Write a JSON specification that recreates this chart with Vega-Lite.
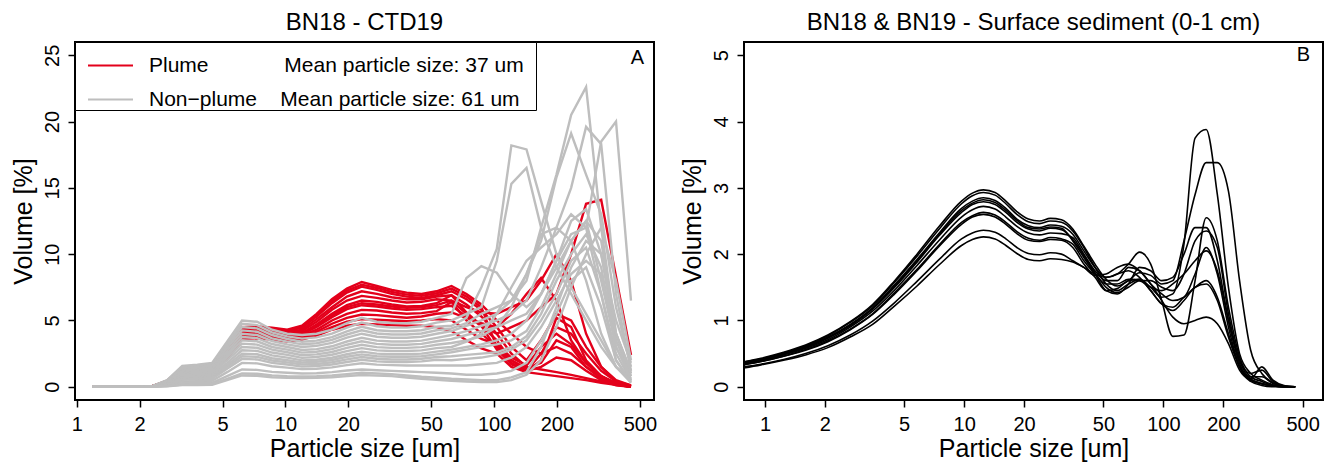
{
"$schema": "https://vega.github.io/schema/vega-lite/v6.json",
"background": "white",
"padding": {"left": 10, "top": 10, "right": 2, "bottom": 0},
"config": {
  "font": "Liberation Sans",
  "view": {"stroke": "black", "strokeWidth": 2},
  "axis": {"domain": false, "grid": false, "tickColor": "black", "tickSize": 7, "tickWidth": 1.5, "labelColor": "black", "labelFontSize": 20, "labelFont": "Liberation Sans", "labelFlush": false, "labelOverlap": false, "titleFont": "Liberation Sans", "titleFontSize": 25, "titleFontWeight": "normal", "titleColor": "black"},
  "axisX": {"labelPadding": 7, "titlePadding": 2},
  "axisY": {"labelAngle": -90, "labelAlign": "center", "labelBaseline": "bottom", "labelPadding": 6, "titlePadding": 6},
  "title": {"fontSize": 24, "fontWeight": "normal", "font": "Liberation Sans", "color": "black", "offset": 7}
},
"datasets": {
"plume": [
{"i":1,"x":1.19,"y":0},{"i":1,"x":1.4,"y":0},{"i":1,"x":1.65,"y":0},{"i":1,"x":1.95,"y":0},{"i":1,"x":2.3,"y":0.05},{"i":1,"x":2.71,"y":0.45},{"i":1,"x":3.2,"y":1.4},{"i":1,"x":3.78,"y":1.5},{"i":1,"x":4.45,"y":1.6},{"i":1,"x":5.25,"y":3},{"i":1,"x":6.19,"y":4.5},{"i":1,"x":7.31,"y":4.55},{"i":1,"x":8.62,"y":4.45},{"i":1,"x":10.2,"y":4.3},{"i":1,"x":12,"y":4.6},{"i":1,"x":14.1,"y":5.5},{"i":1,"x":16.7,"y":6.6},{"i":1,"x":19.7,"y":7.4},{"i":1,"x":23.2,"y":7.9},{"i":1,"x":27.4,"y":7.6},{"i":1,"x":32.3,"y":7.3},{"i":1,"x":38.1,"y":7.1},{"i":1,"x":44.9,"y":7},{"i":1,"x":53,"y":7.2},{"i":1,"x":62.5,"y":7.6},{"i":1,"x":73.7,"y":7},{"i":1,"x":86.9,"y":6.2},{"i":1,"x":103,"y":5},{"i":1,"x":121,"y":4},{"i":1,"x":143,"y":3},{"i":1,"x":168,"y":2.5},{"i":1,"x":199,"y":3},{"i":1,"x":234,"y":2.5},{"i":1,"x":276,"y":1.5},{"i":1,"x":326,"y":0.7},{"i":1,"x":384,"y":0.2},{"i":1,"x":453,"y":0.05},
{"i":2,"x":1.19,"y":0},{"i":2,"x":1.4,"y":0},{"i":2,"x":1.65,"y":0},{"i":2,"x":1.95,"y":0},{"i":2,"x":2.3,"y":0.05},{"i":2,"x":2.71,"y":0.43},{"i":2,"x":3.2,"y":1.35},{"i":2,"x":3.78,"y":1.45},{"i":2,"x":4.45,"y":1.55},{"i":2,"x":5.25,"y":2.9},{"i":2,"x":6.19,"y":4.4},{"i":2,"x":7.31,"y":4.45},{"i":2,"x":8.62,"y":4.35},{"i":2,"x":10.2,"y":4.2},{"i":2,"x":12,"y":4.45},{"i":2,"x":14.1,"y":5.3},{"i":2,"x":16.7,"y":6.3},{"i":2,"x":19.7,"y":7.1},{"i":2,"x":23.2,"y":7.55},{"i":2,"x":27.4,"y":7.3},{"i":2,"x":32.3,"y":7},{"i":2,"x":38.1,"y":6.8},{"i":2,"x":44.9,"y":6.7},{"i":2,"x":53,"y":6.9},{"i":2,"x":62.5,"y":7.2},{"i":2,"x":73.7,"y":6.6},{"i":2,"x":86.9,"y":5.8},{"i":2,"x":103,"y":4.5},{"i":2,"x":121,"y":3},{"i":2,"x":143,"y":2},{"i":2,"x":168,"y":3.5},{"i":2,"x":199,"y":5.5},{"i":2,"x":234,"y":5},{"i":2,"x":276,"y":3},{"i":2,"x":326,"y":1.5},{"i":2,"x":384,"y":0.5},{"i":2,"x":453,"y":0.1},
{"i":3,"x":1.19,"y":0},{"i":3,"x":1.4,"y":0},{"i":3,"x":1.65,"y":0},{"i":3,"x":1.95,"y":0},{"i":3,"x":2.3,"y":0.04},{"i":3,"x":2.71,"y":0.42},{"i":3,"x":3.2,"y":1.3},{"i":3,"x":3.78,"y":1.4},{"i":3,"x":4.45,"y":1.5},{"i":3,"x":5.25,"y":2.8},{"i":3,"x":6.19,"y":4.3},{"i":3,"x":7.31,"y":4.35},{"i":3,"x":8.62,"y":4.25},{"i":3,"x":10.2,"y":4.1},{"i":3,"x":12,"y":4.3},{"i":3,"x":14.1,"y":5.1},{"i":3,"x":16.7,"y":6},{"i":3,"x":19.7,"y":6.8},{"i":3,"x":23.2,"y":7.2},{"i":3,"x":27.4,"y":7},{"i":3,"x":32.3,"y":6.75},{"i":3,"x":38.1,"y":6.6},{"i":3,"x":44.9,"y":6.6},{"i":3,"x":53,"y":6.8},{"i":3,"x":62.5,"y":6.9},{"i":3,"x":73.7,"y":6.2},{"i":3,"x":86.9,"y":5.3},{"i":3,"x":103,"y":4},{"i":3,"x":121,"y":2.5},{"i":3,"x":143,"y":1.5},{"i":3,"x":168,"y":1.3},{"i":3,"x":199,"y":1.1},{"i":3,"x":234,"y":0.9},{"i":3,"x":276,"y":0.65},{"i":3,"x":326,"y":0.4},{"i":3,"x":384,"y":0.2},{"i":3,"x":453,"y":0},
{"i":4,"x":1.19,"y":0},{"i":4,"x":1.4,"y":0},{"i":4,"x":1.65,"y":0},{"i":4,"x":1.95,"y":0},{"i":4,"x":2.3,"y":0.04},{"i":4,"x":2.71,"y":0.4},{"i":4,"x":3.2,"y":1.25},{"i":4,"x":3.78,"y":1.35},{"i":4,"x":4.45,"y":1.45},{"i":4,"x":5.25,"y":2.7},{"i":4,"x":6.19,"y":4.2},{"i":4,"x":7.31,"y":4.25},{"i":4,"x":8.62,"y":4.15},{"i":4,"x":10.2,"y":4},{"i":4,"x":12,"y":4.2},{"i":4,"x":14.1,"y":4.9},{"i":4,"x":16.7,"y":5.8},{"i":4,"x":19.7,"y":6.5},{"i":4,"x":23.2,"y":6.85},{"i":4,"x":27.4,"y":6.7},{"i":4,"x":32.3,"y":6.5},{"i":4,"x":38.1,"y":6.35},{"i":4,"x":44.9,"y":6.4},{"i":4,"x":53,"y":6.6},{"i":4,"x":62.5,"y":6.5},{"i":4,"x":73.7,"y":6},{"i":4,"x":86.9,"y":5.6},{"i":4,"x":103,"y":5.5},{"i":4,"x":121,"y":6},{"i":4,"x":143,"y":6.5},{"i":4,"x":168,"y":8},{"i":4,"x":199,"y":10},{"i":4,"x":234,"y":8},{"i":4,"x":276,"y":4},{"i":4,"x":326,"y":1.5},{"i":4,"x":384,"y":0.4},{"i":4,"x":453,"y":0.1},
{"i":5,"x":1.19,"y":0},{"i":5,"x":1.4,"y":0},{"i":5,"x":1.65,"y":0},{"i":5,"x":1.95,"y":0},{"i":5,"x":2.3,"y":0.04},{"i":5,"x":2.71,"y":0.38},{"i":5,"x":3.2,"y":1.2},{"i":5,"x":3.78,"y":1.3},{"i":5,"x":4.45,"y":1.4},{"i":5,"x":5.25,"y":2.6},{"i":5,"x":6.19,"y":4.1},{"i":5,"x":7.31,"y":4.15},{"i":5,"x":8.62,"y":4.05},{"i":5,"x":10.2,"y":3.9},{"i":5,"x":12,"y":4.05},{"i":5,"x":14.1,"y":4.7},{"i":5,"x":16.7,"y":5.5},{"i":5,"x":19.7,"y":6.15},{"i":5,"x":23.2,"y":6.5},{"i":5,"x":27.4,"y":6.4},{"i":5,"x":32.3,"y":6.2},{"i":5,"x":38.1,"y":6.05},{"i":5,"x":44.9,"y":6.1},{"i":5,"x":53,"y":6.3},{"i":5,"x":62.5,"y":6.9},{"i":5,"x":73.7,"y":5.6},{"i":5,"x":86.9,"y":4.6},{"i":5,"x":103,"y":3.5},{"i":5,"x":121,"y":2},{"i":5,"x":143,"y":1.2},{"i":5,"x":168,"y":2.5},{"i":5,"x":199,"y":4.5},{"i":5,"x":234,"y":4},{"i":5,"x":276,"y":2.5},{"i":5,"x":326,"y":1.2},{"i":5,"x":384,"y":0.4},{"i":5,"x":453,"y":0},
{"i":6,"x":1.19,"y":0},{"i":6,"x":1.4,"y":0},{"i":6,"x":1.65,"y":0},{"i":6,"x":1.95,"y":0},{"i":6,"x":2.3,"y":0.04},{"i":6,"x":2.71,"y":0.36},{"i":6,"x":3.2,"y":1.15},{"i":6,"x":3.78,"y":1.25},{"i":6,"x":4.45,"y":1.35},{"i":6,"x":5.25,"y":2.5},{"i":6,"x":6.19,"y":4},{"i":6,"x":7.31,"y":4.05},{"i":6,"x":8.62,"y":3.95},{"i":6,"x":10.2,"y":3.8},{"i":6,"x":12,"y":3.95},{"i":6,"x":14.1,"y":4.5},{"i":6,"x":16.7,"y":5.25},{"i":6,"x":19.7,"y":5.85},{"i":6,"x":23.2,"y":6.15},{"i":6,"x":27.4,"y":6.05},{"i":6,"x":32.3,"y":5.9},{"i":6,"x":38.1,"y":5.8},{"i":6,"x":44.9,"y":5.85},{"i":6,"x":53,"y":6},{"i":6,"x":62.5,"y":6.1},{"i":6,"x":73.7,"y":5.3},{"i":6,"x":86.9,"y":4.6},{"i":6,"x":103,"y":4},{"i":6,"x":121,"y":4.5},{"i":6,"x":143,"y":5},{"i":6,"x":168,"y":6},{"i":6,"x":199,"y":7},{"i":6,"x":234,"y":10},{"i":6,"x":276,"y":13.8},{"i":6,"x":326,"y":14.1},{"i":6,"x":384,"y":8.3},{"i":6,"x":453,"y":2.4},
{"i":7,"x":1.19,"y":0},{"i":7,"x":1.4,"y":0},{"i":7,"x":1.65,"y":0},{"i":7,"x":1.95,"y":0},{"i":7,"x":2.3,"y":0.03},{"i":7,"x":2.71,"y":0.34},{"i":7,"x":3.2,"y":1.1},{"i":7,"x":3.78,"y":1.2},{"i":7,"x":4.45,"y":1.3},{"i":7,"x":5.25,"y":2.4},{"i":7,"x":6.19,"y":3.9},{"i":7,"x":7.31,"y":3.95},{"i":7,"x":8.62,"y":3.85},{"i":7,"x":10.2,"y":3.7},{"i":7,"x":12,"y":3.85},{"i":7,"x":14.1,"y":4.3},{"i":7,"x":16.7,"y":5},{"i":7,"x":19.7,"y":5.5},{"i":7,"x":23.2,"y":5.8},{"i":7,"x":27.4,"y":5.75},{"i":7,"x":32.3,"y":5.6},{"i":7,"x":38.1,"y":5.5},{"i":7,"x":44.9,"y":5.55},{"i":7,"x":53,"y":5.7},{"i":7,"x":62.5,"y":6.4},{"i":7,"x":73.7,"y":5},{"i":7,"x":86.9,"y":4},{"i":7,"x":103,"y":3},{"i":7,"x":121,"y":1.8},{"i":7,"x":143,"y":1.1},{"i":7,"x":168,"y":2},{"i":7,"x":199,"y":5.2},{"i":7,"x":234,"y":4.5},{"i":7,"x":276,"y":2},{"i":7,"x":326,"y":0.8},{"i":7,"x":384,"y":0.2},{"i":7,"x":453,"y":0},
{"i":8,"x":1.19,"y":0},{"i":8,"x":1.4,"y":0},{"i":8,"x":1.65,"y":0},{"i":8,"x":1.95,"y":0},{"i":8,"x":2.3,"y":0.03},{"i":8,"x":2.71,"y":0.32},{"i":8,"x":3.2,"y":1.05},{"i":8,"x":3.78,"y":1.15},{"i":8,"x":4.45,"y":1.25},{"i":8,"x":5.25,"y":2.3},{"i":8,"x":6.19,"y":3.8},{"i":8,"x":7.31,"y":3.85},{"i":8,"x":8.62,"y":3.75},{"i":8,"x":10.2,"y":3.6},{"i":8,"x":12,"y":3.75},{"i":8,"x":14.1,"y":4.15},{"i":8,"x":16.7,"y":4.75},{"i":8,"x":19.7,"y":5.2},{"i":8,"x":23.2,"y":5.45},{"i":8,"x":27.4,"y":5.4},{"i":8,"x":32.3,"y":5.3},{"i":8,"x":38.1,"y":5.2},{"i":8,"x":44.9,"y":5.3},{"i":8,"x":53,"y":5.5},{"i":8,"x":62.5,"y":5.6},{"i":8,"x":73.7,"y":5.2},{"i":8,"x":86.9,"y":4.8},{"i":8,"x":103,"y":4.5},{"i":8,"x":121,"y":5.5},{"i":8,"x":143,"y":7},{"i":8,"x":168,"y":8.2},{"i":8,"x":199,"y":6.5},{"i":8,"x":234,"y":3.5},{"i":8,"x":276,"y":1.8},{"i":8,"x":326,"y":0.8},{"i":8,"x":384,"y":0.2},{"i":8,"x":453,"y":0},
{"i":9,"x":1.19,"y":0},{"i":9,"x":1.4,"y":0},{"i":9,"x":1.65,"y":0},{"i":9,"x":1.95,"y":0},{"i":9,"x":2.3,"y":0.03},{"i":9,"x":2.71,"y":0.3},{"i":9,"x":3.2,"y":1},{"i":9,"x":3.78,"y":1.1},{"i":9,"x":4.45,"y":1.2},{"i":9,"x":5.25,"y":2.2},{"i":9,"x":6.19,"y":3.7},{"i":9,"x":7.31,"y":3.75},{"i":9,"x":8.62,"y":3.65},{"i":9,"x":10.2,"y":3.5},{"i":9,"x":12,"y":3.65},{"i":9,"x":14.1,"y":4},{"i":9,"x":16.7,"y":4.5},{"i":9,"x":19.7,"y":4.9},{"i":9,"x":23.2,"y":5.1},{"i":9,"x":27.4,"y":5.05},{"i":9,"x":32.3,"y":5},{"i":9,"x":38.1,"y":4.95},{"i":9,"x":44.9,"y":5},{"i":9,"x":53,"y":5.1},{"i":9,"x":62.5,"y":5},{"i":9,"x":73.7,"y":4.3},{"i":9,"x":86.9,"y":3.6},{"i":9,"x":103,"y":3.2},{"i":9,"x":121,"y":2.2},{"i":9,"x":143,"y":1.6},{"i":9,"x":168,"y":3},{"i":9,"x":199,"y":4},{"i":9,"x":234,"y":3.2},{"i":9,"x":276,"y":1.8},{"i":9,"x":326,"y":0.8},{"i":9,"x":384,"y":0.3},{"i":9,"x":453,"y":0},
{"i":10,"x":1.19,"y":0},{"i":10,"x":1.4,"y":0},{"i":10,"x":1.65,"y":0},{"i":10,"x":1.95,"y":0},{"i":10,"x":2.3,"y":0.03},{"i":10,"x":2.71,"y":0.28},{"i":10,"x":3.2,"y":0.95},{"i":10,"x":3.78,"y":1.05},{"i":10,"x":4.45,"y":1.15},{"i":10,"x":5.25,"y":2.1},{"i":10,"x":6.19,"y":3.6},{"i":10,"x":7.31,"y":3.65},{"i":10,"x":8.62,"y":3.55},{"i":10,"x":10.2,"y":3.4},{"i":10,"x":12,"y":3.55},{"i":10,"x":14.1,"y":3.85},{"i":10,"x":16.7,"y":4.3},{"i":10,"x":19.7,"y":4.6},{"i":10,"x":23.2,"y":4.75},{"i":10,"x":27.4,"y":4.7},{"i":10,"x":32.3,"y":4.65},{"i":10,"x":38.1,"y":4.6},{"i":10,"x":44.9,"y":4.6},{"i":10,"x":53,"y":4.5},{"i":10,"x":62.5,"y":4.2},{"i":10,"x":73.7,"y":3.5},{"i":10,"x":86.9,"y":2.9},{"i":10,"x":103,"y":2.5},{"i":10,"x":121,"y":1.5},{"i":10,"x":143,"y":1.1},{"i":10,"x":168,"y":0.95},{"i":10,"x":199,"y":0.8},{"i":10,"x":234,"y":0.65},{"i":10,"x":276,"y":0.5},{"i":10,"x":326,"y":0.3},{"i":10,"x":384,"y":0.15},{"i":10,"x":453,"y":0},
{"i":11,"x":1.19,"y":0},{"i":11,"x":1.4,"y":0},{"i":11,"x":1.65,"y":0},{"i":11,"x":1.95,"y":0},{"i":11,"x":2.3,"y":0.05},{"i":11,"x":2.71,"y":0.44},{"i":11,"x":3.2,"y":1.38},{"i":11,"x":3.78,"y":1.48},{"i":11,"x":4.45,"y":1.58},{"i":11,"x":5.25,"y":2.95},{"i":11,"x":6.19,"y":4.45},{"i":11,"x":7.31,"y":4.5},{"i":11,"x":8.62,"y":4.4},{"i":11,"x":10.2,"y":4.25},{"i":11,"x":12,"y":4.5},{"i":11,"x":14.1,"y":5.4},{"i":11,"x":16.7,"y":6.45},{"i":11,"x":19.7,"y":7.25},{"i":11,"x":23.2,"y":7.7},{"i":11,"x":27.4,"y":7.45},{"i":11,"x":32.3,"y":7.15},{"i":11,"x":38.1,"y":6.95},{"i":11,"x":44.9,"y":6.85},{"i":11,"x":53,"y":7.05},{"i":11,"x":62.5,"y":7.4},{"i":11,"x":73.7,"y":6.8},{"i":11,"x":86.9,"y":6},{"i":11,"x":103,"y":3},{"i":11,"x":121,"y":2},{"i":11,"x":143,"y":1.4},{"i":11,"x":168,"y":1.8},{"i":11,"x":199,"y":3.5},{"i":11,"x":234,"y":3},{"i":11,"x":276,"y":1.5},{"i":11,"x":326,"y":0.6},{"i":11,"x":384,"y":0.15},{"i":11,"x":453,"y":0},
{"i":12,"x":1.19,"y":0},{"i":12,"x":1.4,"y":0},{"i":12,"x":1.65,"y":0},{"i":12,"x":1.95,"y":0},{"i":12,"x":2.3,"y":0.04},{"i":12,"x":2.71,"y":0.37},{"i":12,"x":3.2,"y":1.18},{"i":12,"x":3.78,"y":1.28},{"i":12,"x":4.45,"y":1.38},{"i":12,"x":5.25,"y":2.55},{"i":12,"x":6.19,"y":4.05},{"i":12,"x":7.31,"y":4.1},{"i":12,"x":8.62,"y":4},{"i":12,"x":10.2,"y":3.85},{"i":12,"x":12,"y":4},{"i":12,"x":14.1,"y":4.6},{"i":12,"x":16.7,"y":5.4},{"i":12,"x":19.7,"y":6},{"i":12,"x":23.2,"y":6.3},{"i":12,"x":27.4,"y":6.2},{"i":12,"x":32.3,"y":6.05},{"i":12,"x":38.1,"y":5.95},{"i":12,"x":44.9,"y":6},{"i":12,"x":53,"y":6.15},{"i":12,"x":62.5,"y":6.5},{"i":12,"x":73.7,"y":5.5},{"i":12,"x":86.9,"y":4.6},{"i":12,"x":103,"y":2.8},{"i":12,"x":121,"y":1.7},{"i":12,"x":143,"y":1.2},{"i":12,"x":168,"y":1.5},{"i":12,"x":199,"y":2.2},{"i":12,"x":234,"y":2},{"i":12,"x":276,"y":1.2},{"i":12,"x":326,"y":0.5},{"i":12,"x":384,"y":0.1},{"i":12,"x":453,"y":0}
],
"nonplume": [
{"i":1,"x":1.19,"y":0},{"i":1,"x":1.4,"y":0},{"i":1,"x":1.65,"y":0},{"i":1,"x":1.95,"y":0},{"i":1,"x":2.3,"y":0.05},{"i":1,"x":2.71,"y":0.5},{"i":1,"x":3.2,"y":1.58},{"i":1,"x":3.78,"y":1.67},{"i":1,"x":4.45,"y":1.8},{"i":1,"x":5.25,"y":3.4},{"i":1,"x":6.19,"y":5},{"i":1,"x":7.31,"y":4.9},{"i":1,"x":8.62,"y":4.3},{"i":1,"x":10.2,"y":4},{"i":1,"x":12,"y":3.9},{"i":1,"x":14.1,"y":4},{"i":1,"x":16.7,"y":4.3},{"i":1,"x":19.7,"y":4.8},{"i":1,"x":23.2,"y":5.2},{"i":1,"x":27.4,"y":4.9},{"i":1,"x":32.3,"y":4.8},{"i":1,"x":38.1,"y":4.8},{"i":1,"x":44.9,"y":4.9},{"i":1,"x":53,"y":5.2},{"i":1,"x":62.5,"y":5.5},{"i":1,"x":73.7,"y":8.2},{"i":1,"x":86.9,"y":9.1},{"i":1,"x":103,"y":8.6},{"i":1,"x":121,"y":7},{"i":1,"x":143,"y":6},{"i":1,"x":168,"y":7},{"i":1,"x":199,"y":9},{"i":1,"x":234,"y":11},{"i":1,"x":276,"y":12.5},{"i":1,"x":326,"y":8},{"i":1,"x":384,"y":3},{"i":1,"x":453,"y":0.8},
{"i":2,"x":1.19,"y":0},{"i":2,"x":1.4,"y":0},{"i":2,"x":1.65,"y":0},{"i":2,"x":1.95,"y":0},{"i":2,"x":2.3,"y":0.05},{"i":2,"x":2.71,"y":0.48},{"i":2,"x":3.2,"y":1.5},{"i":2,"x":3.78,"y":1.58},{"i":2,"x":4.45,"y":1.7},{"i":2,"x":5.25,"y":3.2},{"i":2,"x":6.19,"y":4.75},{"i":2,"x":7.31,"y":4.65},{"i":2,"x":8.62,"y":4.1},{"i":2,"x":10.2,"y":3.8},{"i":2,"x":12,"y":3.63},{"i":2,"x":14.1,"y":3.72},{"i":2,"x":16.7,"y":4},{"i":2,"x":19.7,"y":4.46},{"i":2,"x":23.2,"y":4.84},{"i":2,"x":27.4,"y":4.56},{"i":2,"x":32.3,"y":4.46},{"i":2,"x":38.1,"y":4.46},{"i":2,"x":44.9,"y":4.56},{"i":2,"x":53,"y":4.84},{"i":2,"x":62.5,"y":5},{"i":2,"x":73.7,"y":5.5},{"i":2,"x":86.9,"y":6},{"i":2,"x":103,"y":9.5},{"i":2,"x":121,"y":15.3},{"i":2,"x":143,"y":16.5},{"i":2,"x":168,"y":12},{"i":2,"x":199,"y":9},{"i":2,"x":234,"y":7},{"i":2,"x":276,"y":5},{"i":2,"x":326,"y":3},{"i":2,"x":384,"y":1.5},{"i":2,"x":453,"y":0.5},
{"i":3,"x":1.19,"y":0},{"i":3,"x":1.4,"y":0},{"i":3,"x":1.65,"y":0},{"i":3,"x":1.95,"y":0},{"i":3,"x":2.3,"y":0.05},{"i":3,"x":2.71,"y":0.45},{"i":3,"x":3.2,"y":1.4},{"i":3,"x":3.78,"y":1.49},{"i":3,"x":4.45,"y":1.6},{"i":3,"x":5.25,"y":3.05},{"i":3,"x":6.19,"y":4.5},{"i":3,"x":7.31,"y":4.4},{"i":3,"x":8.62,"y":3.9},{"i":3,"x":10.2,"y":3.6},{"i":3,"x":12,"y":3.39},{"i":3,"x":14.1,"y":3.48},{"i":3,"x":16.7,"y":3.74},{"i":3,"x":19.7,"y":4.18},{"i":3,"x":23.2,"y":4.52},{"i":3,"x":27.4,"y":4.26},{"i":3,"x":32.3,"y":4.18},{"i":3,"x":38.1,"y":4.18},{"i":3,"x":44.9,"y":4.26},{"i":3,"x":53,"y":4.52},{"i":3,"x":62.5,"y":4.6},{"i":3,"x":73.7,"y":5.2},{"i":3,"x":86.9,"y":7.5},{"i":3,"x":103,"y":10.4},{"i":3,"x":121,"y":18.2},{"i":3,"x":143,"y":17.9},{"i":3,"x":168,"y":14},{"i":3,"x":199,"y":10},{"i":3,"x":234,"y":7.5},{"i":3,"x":276,"y":5.5},{"i":3,"x":326,"y":3.5},{"i":3,"x":384,"y":1.5},{"i":3,"x":453,"y":0.5},
{"i":4,"x":1.19,"y":0},{"i":4,"x":1.4,"y":0},{"i":4,"x":1.65,"y":0},{"i":4,"x":1.95,"y":0},{"i":4,"x":2.3,"y":0.04},{"i":4,"x":2.71,"y":0.42},{"i":4,"x":3.2,"y":1.32},{"i":4,"x":3.78,"y":1.4},{"i":4,"x":4.45,"y":1.5},{"i":4,"x":5.25,"y":2.9},{"i":4,"x":6.19,"y":4.25},{"i":4,"x":7.31,"y":4.15},{"i":4,"x":8.62,"y":3.65},{"i":4,"x":10.2,"y":3.4},{"i":4,"x":12,"y":3.2},{"i":4,"x":14.1,"y":3.28},{"i":4,"x":16.7,"y":3.53},{"i":4,"x":19.7,"y":3.94},{"i":4,"x":23.2,"y":4.26},{"i":4,"x":27.4,"y":4.02},{"i":4,"x":32.3,"y":3.94},{"i":4,"x":38.1,"y":3.94},{"i":4,"x":44.9,"y":4.02},{"i":4,"x":53,"y":4.26},{"i":4,"x":62.5,"y":4.4},{"i":4,"x":73.7,"y":4.8},{"i":4,"x":86.9,"y":5.5},{"i":4,"x":103,"y":6},{"i":4,"x":121,"y":6.5},{"i":4,"x":143,"y":8},{"i":4,"x":168,"y":12},{"i":4,"x":199,"y":16},{"i":4,"x":234,"y":20.5},{"i":4,"x":276,"y":22.6},{"i":4,"x":326,"y":12},{"i":4,"x":384,"y":4},{"i":4,"x":453,"y":1},
{"i":5,"x":1.19,"y":0},{"i":5,"x":1.4,"y":0},{"i":5,"x":1.65,"y":0},{"i":5,"x":1.95,"y":0},{"i":5,"x":2.3,"y":0.04},{"i":5,"x":2.71,"y":0.39},{"i":5,"x":3.2,"y":1.23},{"i":5,"x":3.78,"y":1.3},{"i":5,"x":4.45,"y":1.4},{"i":5,"x":5.25,"y":2.7},{"i":5,"x":6.19,"y":4},{"i":5,"x":7.31,"y":3.9},{"i":5,"x":8.62,"y":3.45},{"i":5,"x":10.2,"y":3.2},{"i":5,"x":12,"y":3},{"i":5,"x":14.1,"y":3.08},{"i":5,"x":16.7,"y":3.31},{"i":5,"x":19.7,"y":3.7},{"i":5,"x":23.2,"y":4},{"i":5,"x":27.4,"y":3.77},{"i":5,"x":32.3,"y":3.7},{"i":5,"x":38.1,"y":3.7},{"i":5,"x":44.9,"y":3.77},{"i":5,"x":53,"y":4},{"i":5,"x":62.5,"y":4.2},{"i":5,"x":73.7,"y":4.6},{"i":5,"x":86.9,"y":5},{"i":5,"x":103,"y":5.5},{"i":5,"x":121,"y":6.5},{"i":5,"x":143,"y":8.5},{"i":5,"x":168,"y":11},{"i":5,"x":199,"y":15.8},{"i":5,"x":234,"y":19.1},{"i":5,"x":276,"y":16},{"i":5,"x":326,"y":13},{"i":5,"x":384,"y":6},{"i":5,"x":453,"y":1.5},
{"i":6,"x":1.19,"y":0},{"i":6,"x":1.4,"y":0},{"i":6,"x":1.65,"y":0},{"i":6,"x":1.95,"y":0},{"i":6,"x":2.3,"y":0.04},{"i":6,"x":2.71,"y":0.36},{"i":6,"x":3.2,"y":1.14},{"i":6,"x":3.78,"y":1.21},{"i":6,"x":4.45,"y":1.3},{"i":6,"x":5.25,"y":2.5},{"i":6,"x":6.19,"y":3.75},{"i":6,"x":7.31,"y":3.67},{"i":6,"x":8.62,"y":3.22},{"i":6,"x":10.2,"y":3},{"i":6,"x":12,"y":2.77},{"i":6,"x":14.1,"y":2.84},{"i":6,"x":16.7,"y":3.05},{"i":6,"x":19.7,"y":3.41},{"i":6,"x":23.2,"y":3.69},{"i":6,"x":27.4,"y":3.48},{"i":6,"x":32.3,"y":3.41},{"i":6,"x":38.1,"y":3.41},{"i":6,"x":44.9,"y":3.48},{"i":6,"x":53,"y":3.69},{"i":6,"x":62.5,"y":3.9},{"i":6,"x":73.7,"y":4.2},{"i":6,"x":86.9,"y":4.6},{"i":6,"x":103,"y":5},{"i":6,"x":121,"y":5.5},{"i":6,"x":143,"y":6.5},{"i":6,"x":168,"y":9},{"i":6,"x":199,"y":12},{"i":6,"x":234,"y":15},{"i":6,"x":276,"y":19.6},{"i":6,"x":326,"y":18.3},{"i":6,"x":384,"y":7},{"i":6,"x":453,"y":1.2},
{"i":7,"x":1.19,"y":0},{"i":7,"x":1.4,"y":0},{"i":7,"x":1.65,"y":0},{"i":7,"x":1.95,"y":0},{"i":7,"x":2.3,"y":0.03},{"i":7,"x":2.71,"y":0.34},{"i":7,"x":3.2,"y":1.06},{"i":7,"x":3.78,"y":1.12},{"i":7,"x":4.45,"y":1.2},{"i":7,"x":5.25,"y":2.35},{"i":7,"x":6.19,"y":3.5},{"i":7,"x":7.31,"y":3.43},{"i":7,"x":8.62,"y":3},{"i":7,"x":10.2,"y":2.8},{"i":7,"x":12,"y":2.57},{"i":7,"x":14.1,"y":2.64},{"i":7,"x":16.7,"y":2.84},{"i":7,"x":19.7,"y":3.17},{"i":7,"x":23.2,"y":3.43},{"i":7,"x":27.4,"y":3.23},{"i":7,"x":32.3,"y":3.17},{"i":7,"x":38.1,"y":3.17},{"i":7,"x":44.9,"y":3.23},{"i":7,"x":53,"y":3.43},{"i":7,"x":62.5,"y":3.6},{"i":7,"x":73.7,"y":3.9},{"i":7,"x":86.9,"y":4.2},{"i":7,"x":103,"y":4.5},{"i":7,"x":121,"y":5},{"i":7,"x":143,"y":5.5},{"i":7,"x":168,"y":7},{"i":7,"x":199,"y":9.5},{"i":7,"x":234,"y":11.5},{"i":7,"x":276,"y":12},{"i":7,"x":326,"y":18.5},{"i":7,"x":384,"y":20},{"i":7,"x":453,"y":6.5},
{"i":8,"x":1.19,"y":0},{"i":8,"x":1.4,"y":0},{"i":8,"x":1.65,"y":0},{"i":8,"x":1.95,"y":0},{"i":8,"x":2.3,"y":0.03},{"i":8,"x":2.71,"y":0.31},{"i":8,"x":3.2,"y":0.97},{"i":8,"x":3.78,"y":1.03},{"i":8,"x":4.45,"y":1.1},{"i":8,"x":5.25,"y":2.2},{"i":8,"x":6.19,"y":3.25},{"i":8,"x":7.31,"y":3.18},{"i":8,"x":8.62,"y":2.8},{"i":8,"x":10.2,"y":2.6},{"i":8,"x":12,"y":2.38},{"i":8,"x":14.1,"y":2.44},{"i":8,"x":16.7,"y":2.62},{"i":8,"x":19.7,"y":2.93},{"i":8,"x":23.2,"y":3.17},{"i":8,"x":27.4,"y":2.99},{"i":8,"x":32.3,"y":2.93},{"i":8,"x":38.1,"y":2.93},{"i":8,"x":44.9,"y":2.99},{"i":8,"x":53,"y":3.17},{"i":8,"x":62.5,"y":3.3},{"i":8,"x":73.7,"y":3.5},{"i":8,"x":86.9,"y":3.8},{"i":8,"x":103,"y":4.5},{"i":8,"x":121,"y":6},{"i":8,"x":143,"y":8.5},{"i":8,"x":168,"y":11.5},{"i":8,"x":199,"y":12},{"i":8,"x":234,"y":11},{"i":8,"x":276,"y":8},{"i":8,"x":326,"y":4},{"i":8,"x":384,"y":1.5},{"i":8,"x":453,"y":0.3},
{"i":9,"x":1.19,"y":0},{"i":9,"x":1.4,"y":0},{"i":9,"x":1.65,"y":0},{"i":9,"x":1.95,"y":0},{"i":9,"x":2.3,"y":0.03},{"i":9,"x":2.71,"y":0.28},{"i":9,"x":3.2,"y":0.88},{"i":9,"x":3.78,"y":0.93},{"i":9,"x":4.45,"y":1},{"i":9,"x":5.25,"y":2},{"i":9,"x":6.19,"y":3},{"i":9,"x":7.31,"y":2.94},{"i":9,"x":8.62,"y":2.58},{"i":9,"x":10.2,"y":2.4},{"i":9,"x":12,"y":2.18},{"i":9,"x":14.1,"y":2.24},{"i":9,"x":16.7,"y":2.41},{"i":9,"x":19.7,"y":2.69},{"i":9,"x":23.2,"y":2.91},{"i":9,"x":27.4,"y":2.74},{"i":9,"x":32.3,"y":2.69},{"i":9,"x":38.1,"y":2.69},{"i":9,"x":44.9,"y":2.74},{"i":9,"x":53,"y":2.91},{"i":9,"x":62.5,"y":3},{"i":9,"x":73.7,"y":3.4},{"i":9,"x":86.9,"y":4},{"i":9,"x":103,"y":5.5},{"i":9,"x":121,"y":7.5},{"i":9,"x":143,"y":9.5},{"i":9,"x":168,"y":10.5},{"i":9,"x":199,"y":11.5},{"i":9,"x":234,"y":13},{"i":9,"x":276,"y":12},{"i":9,"x":326,"y":7},{"i":9,"x":384,"y":2.5},{"i":9,"x":453,"y":0.5},
{"i":10,"x":1.19,"y":0},{"i":10,"x":1.4,"y":0},{"i":10,"x":1.65,"y":0},{"i":10,"x":1.95,"y":0},{"i":10,"x":2.3,"y":0.02},{"i":10,"x":2.71,"y":0.25},{"i":10,"x":3.2,"y":0.79},{"i":10,"x":3.78,"y":0.84},{"i":10,"x":4.45,"y":0.9},{"i":10,"x":5.25,"y":1.8},{"i":10,"x":6.19,"y":2.75},{"i":10,"x":7.31,"y":2.7},{"i":10,"x":8.62,"y":2.37},{"i":10,"x":10.2,"y":2.2},{"i":10,"x":12,"y":1.99},{"i":10,"x":14.1,"y":2.04},{"i":10,"x":16.7,"y":2.19},{"i":10,"x":19.7,"y":2.45},{"i":10,"x":23.2,"y":2.65},{"i":10,"x":27.4,"y":2.5},{"i":10,"x":32.3,"y":2.45},{"i":10,"x":38.1,"y":2.45},{"i":10,"x":44.9,"y":2.5},{"i":10,"x":53,"y":2.65},{"i":10,"x":62.5,"y":2.8},{"i":10,"x":73.7,"y":3},{"i":10,"x":86.9,"y":3.2},{"i":10,"x":103,"y":3.5},{"i":10,"x":121,"y":4},{"i":10,"x":143,"y":5},{"i":10,"x":168,"y":7},{"i":10,"x":199,"y":9.5},{"i":10,"x":234,"y":12.5},{"i":10,"x":276,"y":13.4},{"i":10,"x":326,"y":10},{"i":10,"x":384,"y":3.5},{"i":10,"x":453,"y":0.8},
{"i":11,"x":1.19,"y":0},{"i":11,"x":1.4,"y":0},{"i":11,"x":1.65,"y":0},{"i":11,"x":1.95,"y":0},{"i":11,"x":2.3,"y":0.02},{"i":11,"x":2.71,"y":0.22},{"i":11,"x":3.2,"y":0.7},{"i":11,"x":3.78,"y":0.74},{"i":11,"x":4.45,"y":0.8},{"i":11,"x":5.25,"y":1.65},{"i":11,"x":6.19,"y":2.5},{"i":11,"x":7.31,"y":2.45},{"i":11,"x":8.62,"y":2.15},{"i":11,"x":10.2,"y":2},{"i":11,"x":12,"y":1.83},{"i":11,"x":14.1,"y":1.88},{"i":11,"x":16.7,"y":2.02},{"i":11,"x":19.7,"y":2.26},{"i":11,"x":23.2,"y":2.44},{"i":11,"x":27.4,"y":2.3},{"i":11,"x":32.3,"y":2.26},{"i":11,"x":38.1,"y":2.26},{"i":11,"x":44.9,"y":2.3},{"i":11,"x":53,"y":2.44},{"i":11,"x":62.5,"y":2.6},{"i":11,"x":73.7,"y":2.8},{"i":11,"x":86.9,"y":3},{"i":11,"x":103,"y":3.2},{"i":11,"x":121,"y":3.5},{"i":11,"x":143,"y":4.2},{"i":11,"x":168,"y":6},{"i":11,"x":199,"y":8.5},{"i":11,"x":234,"y":11},{"i":11,"x":276,"y":12.5},{"i":11,"x":326,"y":11},{"i":11,"x":384,"y":4},{"i":11,"x":453,"y":1},
{"i":12,"x":1.19,"y":0},{"i":12,"x":1.4,"y":0},{"i":12,"x":1.65,"y":0},{"i":12,"x":1.95,"y":0},{"i":12,"x":2.3,"y":0.02},{"i":12,"x":2.71,"y":0.2},{"i":12,"x":3.2,"y":0.62},{"i":12,"x":3.78,"y":0.65},{"i":12,"x":4.45,"y":0.7},{"i":12,"x":5.25,"y":1.5},{"i":12,"x":6.19,"y":2.3},{"i":12,"x":7.31,"y":2.25},{"i":12,"x":8.62,"y":1.98},{"i":12,"x":10.2,"y":1.84},{"i":12,"x":12,"y":1.68},{"i":12,"x":14.1,"y":1.72},{"i":12,"x":16.7,"y":1.85},{"i":12,"x":19.7,"y":2.06},{"i":12,"x":23.2,"y":2.24},{"i":12,"x":27.4,"y":2.11},{"i":12,"x":32.3,"y":2.06},{"i":12,"x":38.1,"y":2.06},{"i":12,"x":44.9,"y":2.11},{"i":12,"x":53,"y":2.24},{"i":12,"x":62.5,"y":2.3},{"i":12,"x":73.7,"y":2.4},{"i":12,"x":86.9,"y":2.5},{"i":12,"x":103,"y":2.6},{"i":12,"x":121,"y":3},{"i":12,"x":143,"y":3.8},{"i":12,"x":168,"y":5.5},{"i":12,"x":199,"y":8},{"i":12,"x":234,"y":10},{"i":12,"x":276,"y":11.5},{"i":12,"x":326,"y":9},{"i":12,"x":384,"y":3},{"i":12,"x":453,"y":0.6},
{"i":13,"x":1.19,"y":0},{"i":13,"x":1.4,"y":0},{"i":13,"x":1.65,"y":0},{"i":13,"x":1.95,"y":0},{"i":13,"x":2.3,"y":0.02},{"i":13,"x":2.71,"y":0.17},{"i":13,"x":3.2,"y":0.53},{"i":13,"x":3.78,"y":0.56},{"i":13,"x":4.45,"y":0.6},{"i":13,"x":5.25,"y":1.35},{"i":13,"x":6.19,"y":2.1},{"i":13,"x":7.31,"y":2.06},{"i":13,"x":8.62,"y":1.8},{"i":13,"x":10.2,"y":1.68},{"i":13,"x":12,"y":1.52},{"i":13,"x":14.1,"y":1.56},{"i":13,"x":16.7,"y":1.68},{"i":13,"x":19.7,"y":1.87},{"i":13,"x":23.2,"y":2.03},{"i":13,"x":27.4,"y":1.91},{"i":13,"x":32.3,"y":1.87},{"i":13,"x":38.1,"y":1.87},{"i":13,"x":44.9,"y":1.91},{"i":13,"x":53,"y":2.03},{"i":13,"x":62.5,"y":2},{"i":13,"x":73.7,"y":2.1},{"i":13,"x":86.9,"y":2.2},{"i":13,"x":103,"y":2.4},{"i":13,"x":121,"y":2.8},{"i":13,"x":143,"y":3.5},{"i":13,"x":168,"y":5},{"i":13,"x":199,"y":7},{"i":13,"x":234,"y":9.5},{"i":13,"x":276,"y":10.5},{"i":13,"x":326,"y":7},{"i":13,"x":384,"y":2},{"i":13,"x":453,"y":0.4},
{"i":14,"x":1.19,"y":0},{"i":14,"x":1.4,"y":0},{"i":14,"x":1.65,"y":0},{"i":14,"x":1.95,"y":0},{"i":14,"x":2.3,"y":0.01},{"i":14,"x":2.71,"y":0.13},{"i":14,"x":3.2,"y":0.4},{"i":14,"x":3.78,"y":0.42},{"i":14,"x":4.45,"y":0.45},{"i":14,"x":5.25,"y":1.1},{"i":14,"x":6.19,"y":1.8},{"i":14,"x":7.31,"y":1.76},{"i":14,"x":8.62,"y":1.55},{"i":14,"x":10.2,"y":1.44},{"i":14,"x":12,"y":1.33},{"i":14,"x":14.1,"y":1.36},{"i":14,"x":16.7,"y":1.46},{"i":14,"x":19.7,"y":1.63},{"i":14,"x":23.2,"y":1.77},{"i":14,"x":27.4,"y":1.67},{"i":14,"x":32.3,"y":1.63},{"i":14,"x":38.1,"y":1.6},{"i":14,"x":44.9,"y":1.6},{"i":14,"x":53,"y":1.6},{"i":14,"x":62.5,"y":1.6},{"i":14,"x":73.7,"y":1.6},{"i":14,"x":86.9,"y":1.7},{"i":14,"x":103,"y":1.8},{"i":14,"x":121,"y":2.2},{"i":14,"x":143,"y":3},{"i":14,"x":168,"y":4.5},{"i":14,"x":199,"y":6.5},{"i":14,"x":234,"y":8.5},{"i":14,"x":276,"y":9.5},{"i":14,"x":326,"y":8.5},{"i":14,"x":384,"y":4},{"i":14,"x":453,"y":1.2},
{"i":15,"x":1.19,"y":0},{"i":15,"x":1.4,"y":0},{"i":15,"x":1.65,"y":0},{"i":15,"x":1.95,"y":0},{"i":15,"x":2.3,"y":0.01},{"i":15,"x":2.71,"y":0.08},{"i":15,"x":3.2,"y":0.26},{"i":15,"x":3.78,"y":0.28},{"i":15,"x":4.45,"y":0.3},{"i":15,"x":5.25,"y":0.8},{"i":15,"x":6.19,"y":1.3},{"i":15,"x":7.31,"y":1.27},{"i":15,"x":8.62,"y":1.12},{"i":15,"x":10.2,"y":1.05},{"i":15,"x":12,"y":1},{"i":15,"x":14.1,"y":1.02},{"i":15,"x":16.7,"y":1.1},{"i":15,"x":19.7,"y":1.22},{"i":15,"x":23.2,"y":1.3},{"i":15,"x":27.4,"y":1.24},{"i":15,"x":32.3,"y":1.2},{"i":15,"x":38.1,"y":1.15},{"i":15,"x":44.9,"y":1.1},{"i":15,"x":53,"y":1.05},{"i":15,"x":62.5,"y":1},{"i":15,"x":73.7,"y":0.9},{"i":15,"x":86.9,"y":0.9},{"i":15,"x":103,"y":1},{"i":15,"x":121,"y":1.2},{"i":15,"x":143,"y":1.8},{"i":15,"x":168,"y":3.5},{"i":15,"x":199,"y":5.5},{"i":15,"x":234,"y":8},{"i":15,"x":276,"y":9},{"i":15,"x":326,"y":6},{"i":15,"x":384,"y":2},{"i":15,"x":453,"y":0.3},
{"i":16,"x":1.19,"y":0},{"i":16,"x":1.4,"y":0},{"i":16,"x":1.65,"y":0},{"i":16,"x":1.95,"y":0},{"i":16,"x":2.3,"y":0},{"i":16,"x":2.71,"y":0.05},{"i":16,"x":3.2,"y":0.17},{"i":16,"x":3.78,"y":0.18},{"i":16,"x":4.45,"y":0.2},{"i":16,"x":5.25,"y":0.6},{"i":16,"x":6.19,"y":1},{"i":16,"x":7.31,"y":0.98},{"i":16,"x":8.62,"y":0.86},{"i":16,"x":10.2,"y":0.8},{"i":16,"x":12,"y":0.78},{"i":16,"x":14.1,"y":0.8},{"i":16,"x":16.7,"y":0.85},{"i":16,"x":19.7,"y":0.95},{"i":16,"x":23.2,"y":1.05},{"i":16,"x":27.4,"y":1},{"i":16,"x":32.3,"y":0.95},{"i":16,"x":38.1,"y":0.85},{"i":16,"x":44.9,"y":0.75},{"i":16,"x":53,"y":0.68},{"i":16,"x":62.5,"y":0.6},{"i":16,"x":73.7,"y":0.55},{"i":16,"x":86.9,"y":0.5},{"i":16,"x":103,"y":0.5},{"i":16,"x":121,"y":0.7},{"i":16,"x":143,"y":1.1},{"i":16,"x":168,"y":3},{"i":16,"x":199,"y":6},{"i":16,"x":234,"y":9},{"i":16,"x":276,"y":11},{"i":16,"x":326,"y":10},{"i":16,"x":384,"y":5},{"i":16,"x":453,"y":1.8},
{"i":17,"x":1.19,"y":0},{"i":17,"x":1.4,"y":0},{"i":17,"x":1.65,"y":0},{"i":17,"x":1.95,"y":0},{"i":17,"x":2.3,"y":0},{"i":17,"x":2.71,"y":0.04},{"i":17,"x":3.2,"y":0.12},{"i":17,"x":3.78,"y":0.13},{"i":17,"x":4.45,"y":0.15},{"i":17,"x":5.25,"y":0.5},{"i":17,"x":6.19,"y":0.85},{"i":17,"x":7.31,"y":0.83},{"i":17,"x":8.62,"y":0.72},{"i":17,"x":10.2,"y":0.68},{"i":17,"x":12,"y":0.66},{"i":17,"x":14.1,"y":0.68},{"i":17,"x":16.7,"y":0.72},{"i":17,"x":19.7,"y":0.8},{"i":17,"x":23.2,"y":0.88},{"i":17,"x":27.4,"y":0.84},{"i":17,"x":32.3,"y":0.8},{"i":17,"x":38.1,"y":0.7},{"i":17,"x":44.9,"y":0.6},{"i":17,"x":53,"y":0.52},{"i":17,"x":62.5,"y":0.45},{"i":17,"x":73.7,"y":0.4},{"i":17,"x":86.9,"y":0.35},{"i":17,"x":103,"y":0.35},{"i":17,"x":121,"y":0.5},{"i":17,"x":143,"y":0.9},{"i":17,"x":168,"y":2},{"i":17,"x":199,"y":4.5},{"i":17,"x":234,"y":7.5},{"i":17,"x":276,"y":10},{"i":17,"x":326,"y":12},{"i":17,"x":384,"y":8},{"i":17,"x":453,"y":2}
],
"sediment": [
{"i":1,"x":0.74,"y":0.36},{"i":1,"x":0.955,"y":0.43},{"i":1,"x":1.24,"y":0.52},{"i":1,"x":1.6,"y":0.63},{"i":1,"x":2.07,"y":0.78},{"i":1,"x":2.68,"y":0.98},{"i":1,"x":3.47,"y":1.24},{"i":1,"x":4.48,"y":1.6},{"i":1,"x":5.8,"y":2},{"i":1,"x":7.5,"y":2.42},{"i":1,"x":9.7,"y":2.8},{"i":1,"x":11,"y":2.92},{"i":1,"x":12.5,"y":2.97},{"i":1,"x":14.3,"y":2.93},{"i":1,"x":16.2,"y":2.8},{"i":1,"x":18.4,"y":2.64},{"i":1,"x":21,"y":2.53},{"i":1,"x":23.9,"y":2.5},{"i":1,"x":27.1,"y":2.54},{"i":1,"x":30.8,"y":2.52},{"i":1,"x":35.1,"y":2.38},{"i":1,"x":39.9,"y":2.12},{"i":1,"x":45.4,"y":1.85},{"i":1,"x":51.6,"y":1.62},{"i":1,"x":58.7,"y":1.52},{"i":1,"x":66.8,"y":1.6},{"i":1,"x":75.9,"y":1.72},{"i":1,"x":86.4,"y":1.68},{"i":1,"x":98.1,"y":1.55},{"i":1,"x":111.6,"y":1.6},{"i":1,"x":126.9,"y":2.2},{"i":1,"x":144.3,"y":2.9},{"i":1,"x":164.1,"y":3.38},{"i":1,"x":186.6,"y":3.38},{"i":1,"x":212.2,"y":2.95},{"i":1,"x":241.3,"y":1.6},{"i":1,"x":274.4,"y":0.55},{"i":1,"x":312.1,"y":0.2},{"i":1,"x":354.9,"y":0.06},{"i":1,"x":403.6,"y":0.01},{"i":1,"x":459,"y":0},
{"i":2,"x":0.74,"y":0.36},{"i":2,"x":0.955,"y":0.42},{"i":2,"x":1.24,"y":0.51},{"i":2,"x":1.6,"y":0.62},{"i":2,"x":2.07,"y":0.77},{"i":2,"x":2.68,"y":0.97},{"i":2,"x":3.47,"y":1.22},{"i":2,"x":4.48,"y":1.58},{"i":2,"x":5.8,"y":1.97},{"i":2,"x":7.5,"y":2.38},{"i":2,"x":9.7,"y":2.76},{"i":2,"x":11,"y":2.88},{"i":2,"x":12.5,"y":2.93},{"i":2,"x":14.3,"y":2.89},{"i":2,"x":16.2,"y":2.76},{"i":2,"x":18.4,"y":2.6},{"i":2,"x":21,"y":2.49},{"i":2,"x":23.9,"y":2.46},{"i":2,"x":27.1,"y":2.5},{"i":2,"x":30.8,"y":2.48},{"i":2,"x":35.1,"y":2.35},{"i":2,"x":39.9,"y":2.1},{"i":2,"x":45.4,"y":1.8},{"i":2,"x":51.6,"y":1.55},{"i":2,"x":58.7,"y":1.45},{"i":2,"x":66.8,"y":1.55},{"i":2,"x":75.9,"y":1.62},{"i":2,"x":86.4,"y":1.5},{"i":2,"x":98.1,"y":1.35},{"i":2,"x":111.6,"y":1.4},{"i":2,"x":126.9,"y":2.15},{"i":2,"x":144.3,"y":3.75},{"i":2,"x":164.1,"y":3.88},{"i":2,"x":186.6,"y":2.9},{"i":2,"x":212.2,"y":1.5},{"i":2,"x":241.3,"y":0.5},{"i":2,"x":274.4,"y":0.2},{"i":2,"x":312.1,"y":0.1},{"i":2,"x":354.9,"y":0.03},{"i":2,"x":403.6,"y":0},{"i":2,"x":459,"y":0},
{"i":3,"x":0.74,"y":0.35},{"i":3,"x":0.955,"y":0.41},{"i":3,"x":1.24,"y":0.5},{"i":3,"x":1.6,"y":0.61},{"i":3,"x":2.07,"y":0.75},{"i":3,"x":2.68,"y":0.94},{"i":3,"x":3.47,"y":1.19},{"i":3,"x":4.48,"y":1.54},{"i":3,"x":5.8,"y":1.92},{"i":3,"x":7.5,"y":2.32},{"i":3,"x":9.7,"y":2.69},{"i":3,"x":11,"y":2.8},{"i":3,"x":12.5,"y":2.85},{"i":3,"x":14.3,"y":2.81},{"i":3,"x":16.2,"y":2.69},{"i":3,"x":18.4,"y":2.53},{"i":3,"x":21,"y":2.43},{"i":3,"x":23.9,"y":2.4},{"i":3,"x":27.1,"y":2.44},{"i":3,"x":30.8,"y":2.42},{"i":3,"x":35.1,"y":2.3},{"i":3,"x":39.9,"y":2.05},{"i":3,"x":45.4,"y":1.8},{"i":3,"x":51.6,"y":1.65},{"i":3,"x":58.7,"y":1.7},{"i":3,"x":66.8,"y":1.85},{"i":3,"x":75.9,"y":2.03},{"i":3,"x":86.4,"y":1.85},{"i":3,"x":98.1,"y":1.3},{"i":3,"x":111.6,"y":0.76},{"i":3,"x":126.9,"y":0.78},{"i":3,"x":144.3,"y":1.6},{"i":3,"x":164.1,"y":2.55},{"i":3,"x":186.6,"y":2.2},{"i":3,"x":212.2,"y":1.2},{"i":3,"x":241.3,"y":0.45},{"i":3,"x":274.4,"y":0.15},{"i":3,"x":312.1,"y":0.08},{"i":3,"x":354.9,"y":0.02},{"i":3,"x":403.6,"y":0},{"i":3,"x":459,"y":0},
{"i":4,"x":0.74,"y":0.34},{"i":4,"x":0.955,"y":0.41},{"i":4,"x":1.24,"y":0.49},{"i":4,"x":1.6,"y":0.6},{"i":4,"x":2.07,"y":0.74},{"i":4,"x":2.68,"y":0.93},{"i":4,"x":3.47,"y":1.18},{"i":4,"x":4.48,"y":1.52},{"i":4,"x":5.8,"y":1.9},{"i":4,"x":7.5,"y":2.3},{"i":4,"x":9.7,"y":2.66},{"i":4,"x":11,"y":2.77},{"i":4,"x":12.5,"y":2.82},{"i":4,"x":14.3,"y":2.78},{"i":4,"x":16.2,"y":2.66},{"i":4,"x":18.4,"y":2.51},{"i":4,"x":21,"y":2.4},{"i":4,"x":23.9,"y":2.38},{"i":4,"x":27.1,"y":2.41},{"i":4,"x":30.8,"y":2.39},{"i":4,"x":35.1,"y":2.2},{"i":4,"x":39.9,"y":1.95},{"i":4,"x":45.4,"y":1.7},{"i":4,"x":51.6,"y":1.45},{"i":4,"x":58.7,"y":1.4},{"i":4,"x":66.8,"y":1.55},{"i":4,"x":75.9,"y":1.8},{"i":4,"x":86.4,"y":1.75},{"i":4,"x":98.1,"y":1.6},{"i":4,"x":111.6,"y":1.65},{"i":4,"x":126.9,"y":2},{"i":4,"x":144.3,"y":2.4},{"i":4,"x":164.1,"y":2.4},{"i":4,"x":186.6,"y":1.9},{"i":4,"x":212.2,"y":1},{"i":4,"x":241.3,"y":0.35},{"i":4,"x":274.4,"y":0.12},{"i":4,"x":312.1,"y":0.3},{"i":4,"x":354.9,"y":0.1},{"i":4,"x":403.6,"y":0.02},{"i":4,"x":459,"y":0},
{"i":5,"x":0.74,"y":0.33},{"i":5,"x":0.955,"y":0.39},{"i":5,"x":1.24,"y":0.48},{"i":5,"x":1.6,"y":0.58},{"i":5,"x":2.07,"y":0.71},{"i":5,"x":2.68,"y":0.9},{"i":5,"x":3.47,"y":1.14},{"i":5,"x":4.48,"y":1.46},{"i":5,"x":5.8,"y":1.83},{"i":5,"x":7.5,"y":2.21},{"i":5,"x":9.7,"y":2.56},{"i":5,"x":11,"y":2.67},{"i":5,"x":12.5,"y":2.72},{"i":5,"x":14.3,"y":2.68},{"i":5,"x":16.2,"y":2.56},{"i":5,"x":18.4,"y":2.42},{"i":5,"x":21,"y":2.32},{"i":5,"x":23.9,"y":2.29},{"i":5,"x":27.1,"y":2.32},{"i":5,"x":30.8,"y":2.31},{"i":5,"x":35.1,"y":2.25},{"i":5,"x":39.9,"y":2},{"i":5,"x":45.4,"y":1.75},{"i":5,"x":51.6,"y":1.6},{"i":5,"x":58.7,"y":1.6},{"i":5,"x":66.8,"y":1.8},{"i":5,"x":75.9,"y":1.75},{"i":5,"x":86.4,"y":1.55},{"i":5,"x":98.1,"y":1.4},{"i":5,"x":111.6,"y":1.3},{"i":5,"x":126.9,"y":1.35},{"i":5,"x":144.3,"y":1.7},{"i":5,"x":164.1,"y":2.1},{"i":5,"x":186.6,"y":1.7},{"i":5,"x":212.2,"y":0.9},{"i":5,"x":241.3,"y":0.3},{"i":5,"x":274.4,"y":0.1},{"i":5,"x":312.1,"y":0.05},{"i":5,"x":354.9,"y":0.01},{"i":5,"x":403.6,"y":0},{"i":5,"x":459,"y":0},
{"i":6,"x":0.74,"y":0.32},{"i":6,"x":0.955,"y":0.38},{"i":6,"x":1.24,"y":0.46},{"i":6,"x":1.6,"y":0.56},{"i":6,"x":2.07,"y":0.69},{"i":6,"x":2.68,"y":0.87},{"i":6,"x":3.47,"y":1.1},{"i":6,"x":4.48,"y":1.42},{"i":6,"x":5.8,"y":1.77},{"i":6,"x":7.5,"y":2.14},{"i":6,"x":9.7,"y":2.48},{"i":6,"x":11,"y":2.58},{"i":6,"x":12.5,"y":2.63},{"i":6,"x":14.3,"y":2.59},{"i":6,"x":16.2,"y":2.48},{"i":6,"x":18.4,"y":2.34},{"i":6,"x":21,"y":2.24},{"i":6,"x":23.9,"y":2.21},{"i":6,"x":27.1,"y":2.25},{"i":6,"x":30.8,"y":2.23},{"i":6,"x":35.1,"y":2.15},{"i":6,"x":39.9,"y":1.9},{"i":6,"x":45.4,"y":1.7},{"i":6,"x":51.6,"y":1.55},{"i":6,"x":58.7,"y":1.55},{"i":6,"x":66.8,"y":1.62},{"i":6,"x":75.9,"y":1.6},{"i":6,"x":86.4,"y":1.5},{"i":6,"x":98.1,"y":1.45},{"i":6,"x":111.6,"y":1.55},{"i":6,"x":126.9,"y":1.7},{"i":6,"x":144.3,"y":1.9},{"i":6,"x":164.1,"y":2.05},{"i":6,"x":186.6,"y":1.75},{"i":6,"x":212.2,"y":1},{"i":6,"x":241.3,"y":0.4},{"i":6,"x":274.4,"y":0.2},{"i":6,"x":312.1,"y":0.25},{"i":6,"x":354.9,"y":0.08},{"i":6,"x":403.6,"y":0.01},{"i":6,"x":459,"y":0},
{"i":7,"x":0.74,"y":0.32},{"i":7,"x":0.955,"y":0.38},{"i":7,"x":1.24,"y":0.46},{"i":7,"x":1.6,"y":0.55},{"i":7,"x":2.07,"y":0.68},{"i":7,"x":2.68,"y":0.86},{"i":7,"x":3.47,"y":1.09},{"i":7,"x":4.48,"y":1.4},{"i":7,"x":5.8,"y":1.75},{"i":7,"x":7.5,"y":2.12},{"i":7,"x":9.7,"y":2.45},{"i":7,"x":11,"y":2.56},{"i":7,"x":12.5,"y":2.6},{"i":7,"x":14.3,"y":2.56},{"i":7,"x":16.2,"y":2.45},{"i":7,"x":18.4,"y":2.31},{"i":7,"x":21,"y":2.21},{"i":7,"x":23.9,"y":2.19},{"i":7,"x":27.1,"y":2.22},{"i":7,"x":30.8,"y":2.21},{"i":7,"x":35.1,"y":2.1},{"i":7,"x":39.9,"y":1.85},{"i":7,"x":45.4,"y":1.65},{"i":7,"x":51.6,"y":1.45},{"i":7,"x":58.7,"y":1.48},{"i":7,"x":66.8,"y":1.6},{"i":7,"x":75.9,"y":1.62},{"i":7,"x":86.4,"y":1.45},{"i":7,"x":98.1,"y":1.25},{"i":7,"x":111.6,"y":1.2},{"i":7,"x":126.9,"y":1.35},{"i":7,"x":144.3,"y":1.5},{"i":7,"x":164.1,"y":1.6},{"i":7,"x":186.6,"y":1.35},{"i":7,"x":212.2,"y":0.8},{"i":7,"x":241.3,"y":0.3},{"i":7,"x":274.4,"y":0.1},{"i":7,"x":312.1,"y":0.04},{"i":7,"x":354.9,"y":0.01},{"i":7,"x":403.6,"y":0},{"i":7,"x":459,"y":0},
{"i":8,"x":0.74,"y":0.29},{"i":8,"x":0.955,"y":0.34},{"i":8,"x":1.24,"y":0.41},{"i":8,"x":1.6,"y":0.5},{"i":8,"x":2.07,"y":0.62},{"i":8,"x":2.68,"y":0.78},{"i":8,"x":3.47,"y":0.99},{"i":8,"x":4.48,"y":1.27},{"i":8,"x":5.8,"y":1.59},{"i":8,"x":7.5,"y":1.92},{"i":8,"x":9.7,"y":2.23},{"i":8,"x":11,"y":2.32},{"i":8,"x":12.5,"y":2.36},{"i":8,"x":14.3,"y":2.33},{"i":8,"x":16.2,"y":2.23},{"i":8,"x":18.4,"y":2.1},{"i":8,"x":21,"y":2.01},{"i":8,"x":23.9,"y":1.99},{"i":8,"x":27.1,"y":2.02},{"i":8,"x":30.8,"y":2},{"i":8,"x":35.1,"y":1.9},{"i":8,"x":39.9,"y":1.8},{"i":8,"x":45.4,"y":1.68},{"i":8,"x":51.6,"y":1.7},{"i":8,"x":58.7,"y":1.8},{"i":8,"x":66.8,"y":1.85},{"i":8,"x":75.9,"y":1.75},{"i":8,"x":86.4,"y":1.55},{"i":8,"x":98.1,"y":1.3},{"i":8,"x":111.6,"y":1.05},{"i":8,"x":126.9,"y":0.95},{"i":8,"x":144.3,"y":1},{"i":8,"x":164.1,"y":1.05},{"i":8,"x":186.6,"y":0.95},{"i":8,"x":212.2,"y":0.65},{"i":8,"x":241.3,"y":0.25},{"i":8,"x":274.4,"y":0.08},{"i":8,"x":312.1,"y":0.02},{"i":8,"x":354.9,"y":0},{"i":8,"x":403.6,"y":0},{"i":8,"x":459,"y":0},
{"i":9,"x":0.74,"y":0.27},{"i":9,"x":0.955,"y":0.33},{"i":9,"x":1.24,"y":0.4},{"i":9,"x":1.6,"y":0.48},{"i":9,"x":2.07,"y":0.59},{"i":9,"x":2.68,"y":0.75},{"i":9,"x":3.47,"y":0.94},{"i":9,"x":4.48,"y":1.22},{"i":9,"x":5.8,"y":1.52},{"i":9,"x":7.5,"y":1.84},{"i":9,"x":9.7,"y":2.13},{"i":9,"x":11,"y":2.22},{"i":9,"x":12.5,"y":2.26},{"i":9,"x":14.3,"y":2.23},{"i":9,"x":16.2,"y":2.13},{"i":9,"x":18.4,"y":2.01},{"i":9,"x":21,"y":1.92},{"i":9,"x":23.9,"y":1.9},{"i":9,"x":27.1,"y":1.93},{"i":9,"x":30.8,"y":1.92},{"i":9,"x":35.1,"y":1.88},{"i":9,"x":39.9,"y":1.8},{"i":9,"x":45.4,"y":1.7},{"i":9,"x":51.6,"y":1.65},{"i":9,"x":58.7,"y":1.7},{"i":9,"x":66.8,"y":1.75},{"i":9,"x":75.9,"y":1.65},{"i":9,"x":86.4,"y":1.45},{"i":9,"x":98.1,"y":1.25},{"i":9,"x":111.6,"y":1.15},{"i":9,"x":126.9,"y":1.3},{"i":9,"x":144.3,"y":1.5},{"i":9,"x":164.1,"y":1.55},{"i":9,"x":186.6,"y":1.3},{"i":9,"x":212.2,"y":0.75},{"i":9,"x":241.3,"y":0.3},{"i":9,"x":274.4,"y":0.12},{"i":9,"x":312.1,"y":0.05},{"i":9,"x":354.9,"y":0.01},{"i":9,"x":403.6,"y":0},{"i":9,"x":459,"y":0},
{"i":10,"x":0.74,"y":0.34},{"i":10,"x":0.955,"y":0.4},{"i":10,"x":1.24,"y":0.49},{"i":10,"x":1.6,"y":0.59},{"i":10,"x":2.07,"y":0.73},{"i":10,"x":2.68,"y":0.92},{"i":10,"x":3.47,"y":1.17},{"i":10,"x":4.48,"y":1.5},{"i":10,"x":5.8,"y":1.88},{"i":10,"x":7.5,"y":2.28},{"i":10,"x":9.7,"y":2.63},{"i":10,"x":11,"y":2.75},{"i":10,"x":12.5,"y":2.79},{"i":10,"x":14.3,"y":2.75},{"i":10,"x":16.2,"y":2.63},{"i":10,"x":18.4,"y":2.48},{"i":10,"x":21,"y":2.38},{"i":10,"x":23.9,"y":2.35},{"i":10,"x":27.1,"y":2.39},{"i":10,"x":30.8,"y":2.37},{"i":10,"x":35.1,"y":2.22},{"i":10,"x":39.9,"y":1.98},{"i":10,"x":45.4,"y":1.72},{"i":10,"x":51.6,"y":1.5},{"i":10,"x":58.7,"y":1.42},{"i":10,"x":66.8,"y":1.5},{"i":10,"x":75.9,"y":1.6},{"i":10,"x":86.4,"y":1.6},{"i":10,"x":98.1,"y":1.5},{"i":10,"x":111.6,"y":1.45},{"i":10,"x":126.9,"y":1.7},{"i":10,"x":144.3,"y":2.2},{"i":10,"x":164.1,"y":2.35},{"i":10,"x":186.6,"y":2.1},{"i":10,"x":212.2,"y":1.1},{"i":10,"x":241.3,"y":0.4},{"i":10,"x":274.4,"y":0.15},{"i":10,"x":312.1,"y":0.15},{"i":10,"x":354.9,"y":0.05},{"i":10,"x":403.6,"y":0.01},{"i":10,"x":459,"y":0}
]
},
"spacing": 90,
"bounds": "flush",
"hconcat": [
{
  "title": "BN18 - CTD19",
  "width": 579,
  "height": 358,
  "layer": [
    {
      "data": {"name": "plume"},
      "mark": {"type": "line", "strokeWidth": 2.4, "clip": true},
      "encoding": {
        "x": {"field": "x", "type": "quantitative", "scale": {"type": "log", "domain": [0.98, 584], "nice": false}, "axis": {"values": [1, 2, 5, 10, 20, 50, 100, 200, 500], "format": "d", "title": "Particle size [um]"}},
        "y": {"field": "y", "type": "quantitative", "scale": {"domain": [-1, 26], "nice": false, "zero": false}, "axis": {"values": [0, 5, 10, 15, 20, 25], "format": "d", "title": "Volume [%]"}},
        "color": {"datum": "Plume", "scale": {"domain": ["Plume", "Non\u2212plume"], "range": ["#e3001b", "#bebebe"]},
          "legend": {"title": null, "orient": "top-left", "offset": 0, "padding": 0, "symbolOffset": 12, "strokeColor": "black", "fillColor": "white", "symbolType": "stroke", "symbolSize": 2025, "symbolStrokeWidth": 2, "labelFontSize": 21, "labelFont": "Liberation Sans", "labelColor": "black", "labelOffset": 15, "rowPadding": -17, "labelLimit": 0,
            "labelExpr": "datum.label == 'Plume' ? 'Plume\u00a0\u00a0\u00a0\u00a0\u00a0\u00a0\u00a0\u00a0\u00a0\u00a0\u00a0\u00a0\u00a0Mean particle size: 37 um\u00a0\u00a0\u200b' : 'Non\u2212plume\u00a0\u00a0\u00a0\u00a0Mean particle size: 61 um\u00a0\u00a0\u200b'"}},
        "detail": {"field": "i"}
      }
    },
    {
      "data": {"name": "nonplume"},
      "mark": {"type": "line", "strokeWidth": 2.4, "clip": true},
      "encoding": {
        "x": {"field": "x", "type": "quantitative"},
        "y": {"field": "y", "type": "quantitative"},
        "color": {"datum": "Non\u2212plume"},
        "detail": {"field": "i"}
      }
    },
    {
      "data": {"values": [{}]},
      "mark": {"type": "text", "text": "A", "fontSize": 20, "color": "black", "align": "center", "baseline": "middle"},
      "encoding": {"x": {"datum": 487}, "y": {"datum": 24.8}}
    }
  ]
},
{
  "title": "BN18 & BN19 - Surface sediment (0-1 cm)",
  "width": 579,
  "height": 358,
  "layer": [
    {
      "data": {"name": "sediment"},
      "mark": {"type": "line", "color": "black", "strokeWidth": 1.6, "interpolate": "monotone", "clip": true},
      "encoding": {
        "x": {"field": "x", "type": "quantitative", "scale": {"type": "log", "domain": [0.785, 633], "nice": false}, "axis": {"values": [1, 2, 5, 10, 20, 50, 100, 200, 500], "format": "d", "title": "Particle size [um]"}},
        "y": {"field": "y", "type": "quantitative", "scale": {"domain": [-0.2, 5.2], "nice": false, "zero": false}, "axis": {"values": [0, 1, 2, 3, 4, 5], "format": "d", "title": "Volume [%]"}},
        "detail": {"field": "i"}
      }
    },
    {
      "data": {"values": [{}]},
      "mark": {"type": "text", "text": "B", "fontSize": 20, "color": "black", "align": "center", "baseline": "middle"},
      "encoding": {"x": {"datum": 505}, "y": {"datum": 5.0}}
    }
  ]
}
]
}
